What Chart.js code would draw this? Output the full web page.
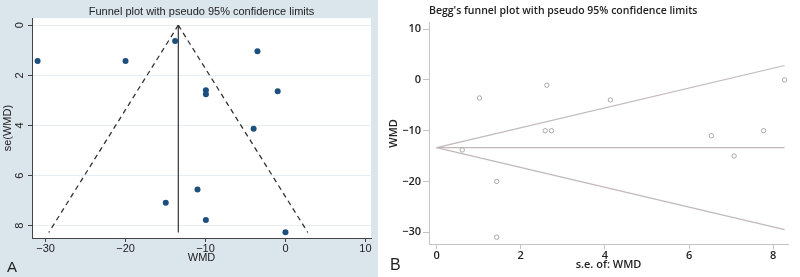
<!DOCTYPE html>
<html>
<head>
<meta charset="utf-8">
<script src="https://cdn.jsdelivr.net/npm/chart.js@4.4.1/dist/chart.umd.min.js"></script>
<style>
  body { margin: 0; width: 800px; height: 277px; position: relative; overflow: hidden; background: #fff; }
  #pa { position: absolute; left: 0; top: 0; width: 378px; height: 277px; background: #dbe5ec; }
  #pb { position: absolute; left: 378px; top: 0; width: 422px; height: 277px; background: #fff; }
  .lab { position: absolute; font-family: "Liberation Sans", Arial, sans-serif; color: #222; }
</style>
</head>
<body>
<div id="pa"><canvas id="chartA" width="378" height="277"></canvas></div>
<div id="pb"><canvas id="chartB" width="422" height="277"></canvas></div>
<div class="lab" style="left:7px;top:258px;font-size:15px">A</div>
<div class="lab" style="left:390px;top:256px;font-size:16px">B</div>
<script>
// panel A: WMD vs se(WMD)
const wmdA = [-31.0, -20.0, -13.8, -3.5, -9.95, -9.95, -0.97, -3.98, -11.0, -14.97, -9.95, 0];
const seA  = [1.43, 1.43, 0.63, 1.04, 2.59, 2.75, 2.63, 4.13, 6.55, 7.08, 7.77, 8.26];
const pooledA = -13.4;
const funnelSeA = [0, 8.27];
const funnelLowA = [-13.4, -29.6];
const funnelHighA = [-13.4, 2.8];

// panel B: s.e. of WMD vs WMD (Begg)
const seB  = [1.02, 2.62, 4.13, 8.27, 2.58, 2.73, 6.53, 7.77, 0.61, 7.07, 1.43, 1.43];
const wmdB = [-3.55, -1.05, -3.94, 0, -10, -10, -11.0, -10, -13.8, -15, -20, -31];
const funnelSeB = [0, 8.27];
const pooledB = [-13.35, -13.35];
const funnelHighB = [-13.35, 2.85];
const funnelLowB = [-13.35, -29.5];

const fontA = 'Liberation Sans';
const fontB = 'Open Sans';
const minus = v => (v < 0 ? '\u2212' + Math.abs(v) : '' + v);

const plotBg = {
  id: 'plotBg',
  beforeDraw(c, args, opts) {
    if (!opts.color) return;
    const { ctx, chartArea: a } = c;
    ctx.save();
    ctx.fillStyle = opts.color;
    ctx.fillRect(a.left, a.top, a.right - a.left, a.bottom - a.top);
    ctx.restore();
  }
};

function pts(xs, ys) {
  return xs.map((x, i) => ({ x: x, y: ys[i] }));
}

new Chart(document.getElementById('chartA'), {
  type: 'scatter',
  plugins: [plotBg],
  data: {
    datasets: [
      { data: pts(wmdA, seA), backgroundColor: '#1d4f7e', borderColor: '#1d4f7e', pointRadius: 3, borderWidth: 0 },
      { data: pts([pooledA, pooledA], funnelSeA), showLine: true, borderColor: '#333', borderWidth: 1.2, pointRadius: 0 },
      { data: pts(funnelLowA, funnelSeA), showLine: true, borderColor: '#333', borderWidth: 1.3, borderDash: [5, 4], pointRadius: 0 },
      { data: pts(funnelHighA, funnelSeA), showLine: true, borderColor: '#333', borderWidth: 1.3, borderDash: [5, 4], pointRadius: 0 }
    ]
  },
  options: {
    responsive: false,
    animation: false,
    layout: { padding: { left: 0, right: 7, top: 0, bottom: 0 } },
    plugins: {
      legend: { display: false },
      tooltip: { enabled: false },
      plotBg: { color: '#ffffff' },
      title: {
        display: true, fullSize: false,
        text: 'Funnel plot with pseudo 95% confidence limits',
        color: '#222', font: { family: fontA, size: 11, weight: 'normal' },
        padding: { top: 5, bottom: 0 }
      }
    },
    scales: {
      x: {
        type: 'linear', min: -31.7, max: 10.7,
        afterFit(s) { s.height = 39; },
        ticks: { stepSize: 10, includeBounds: false, color: '#222', padding: 0,
          font: { family: fontA, size: 11 }, callback: v => minus(v) },
        grid: { drawOnChartArea: false, tickLength: 4, tickColor: '#444' },
        border: { color: '#444', width: 1 },
        title: { display: true, text: 'WMD', color: '#222', font: { family: fontA, size: 11 },
          padding: { top: 0, bottom: 12 } }
      },
      y: {
        type: 'linear', reverse: true, min: -0.28, max: 8.49,
        afterFit(s) { s.width = 32; },
        ticks: { stepSize: 2, includeBounds: false, minRotation: 90, maxRotation: 90,
          crossAlign: 'center', padding: 4.5, color: '#222', font: { family: fontA, size: 11 } },
        grid: { color: '#e7edf1', tickLength: 4, tickColor: '#444' },
        border: { color: '#444', width: 1 },
        title: { display: true, text: 'se(WMD)', color: '#222', font: { family: fontA, size: 11 },
          padding: { top: 1.5, bottom: 0 } }
      }
    }
  }
});

new Chart(document.getElementById('chartB'), {
  type: 'scatter',
  data: {
    datasets: [
      { data: pts(seB, wmdB), backgroundColor: '#fff', borderColor: '#a9a9a9', borderWidth: 1, pointRadius: 2.2 },
      { data: pts(funnelSeB, pooledB), showLine: true, borderColor: '#c2b8ba', borderWidth: 1.2, pointRadius: 0 },
      { data: pts(funnelSeB, funnelHighB), showLine: true, borderColor: '#c2b8ba', borderWidth: 1.2, pointRadius: 0 },
      { data: pts(funnelSeB, funnelLowB), showLine: true, borderColor: '#c2b8ba', borderWidth: 1.2, pointRadius: 0 }
    ]
  },
  options: {
    responsive: false,
    animation: false,
    layout: { padding: { left: 0, right: 12, top: 0, bottom: 0 } },
    plugins: {
      legend: { display: false },
      tooltip: { enabled: false },
      title: {
        display: true, fullSize: false, align: 'start',
        text: "Begg's funnel plot with pseudo 95% confidence limits",
        color: '#222', font: { family: fontB, size: 10.5, weight: '600' },
        padding: { top: 5, bottom: 5 }
      }
    },
    scales: {
      x: {
        type: 'linear', min: -0.18, max: 8.35,
        afterFit(s) { s.height = 32.7; },
        ticks: { stepSize: 2, includeBounds: false, color: '#222', padding: 0,
          font: { family: fontB, size: 11, weight: '600' } },
        grid: { drawOnChartArea: false, tickLength: 5, tickColor: '#c4c4c4' },
        border: { color: '#c4c4c4', width: 1 },
        title: { display: true, text: 's.e. of: WMD', color: '#222', font: { family: fontB, size: 11, weight: '600' },
          padding: { top: 0, bottom: 6 } }
      },
      y: {
        type: 'linear', min: -32.4, max: 11.3,
        afterFit(s) { s.width = 51; },
        ticks: { stepSize: 10, includeBounds: false, padding: 2, color: '#222',
          font: { family: fontB, size: 11, weight: '600' }, callback: v => minus(v) },
        grid: { drawOnChartArea: false, tickLength: 6, tickColor: '#c4c4c4' },
        border: { color: '#c4c4c4', width: 1 },
        title: { display: true, text: 'WMD', color: '#222', font: { family: fontB, size: 11, weight: '600' },
          padding: { top: 9, bottom: 0 } }
      }
    }
  }
});
</script>
</body>
</html>
